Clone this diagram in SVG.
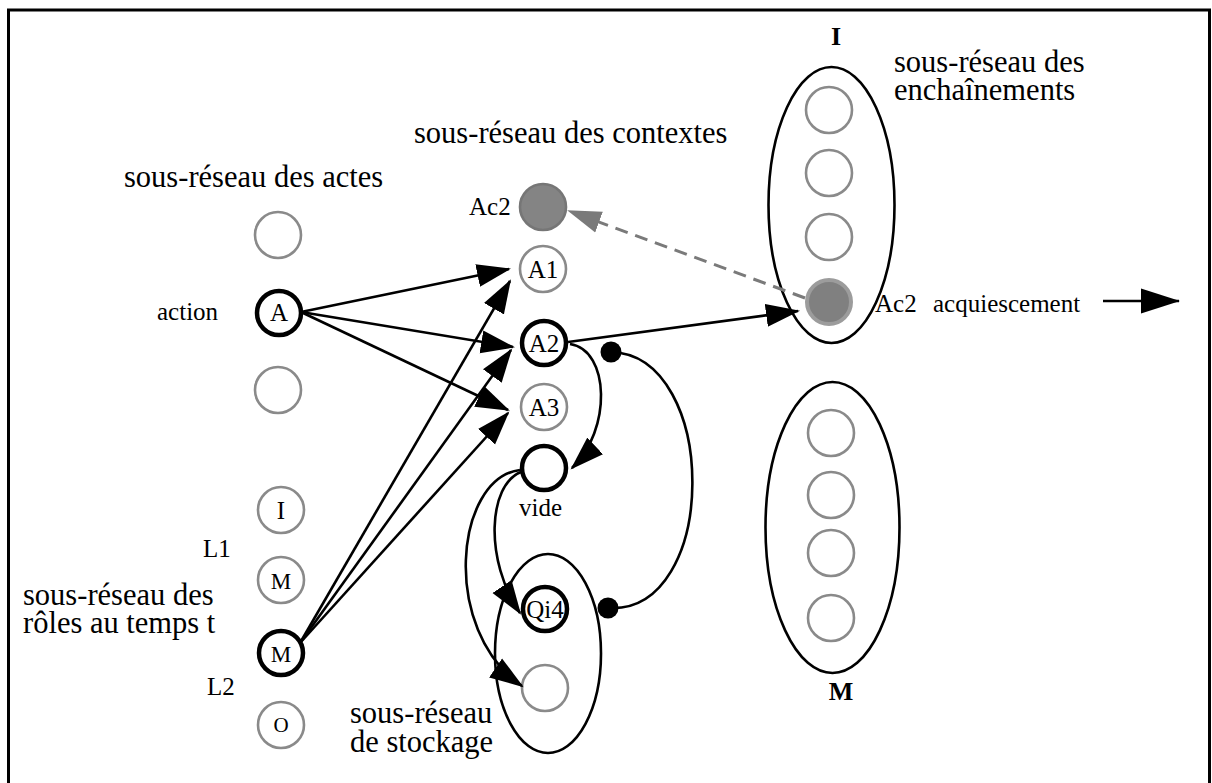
<svg xmlns="http://www.w3.org/2000/svg" width="1212" height="783" viewBox="0 0 1212 783">
<style>
text{font-family:"Liberation Serif","Times New Roman",serif;fill:#000}
.big{font-size:30.5px}
.sm{font-size:25px}
.nl{font-size:25px;text-anchor:middle}
.g{fill:#fff;stroke:#8a8a8a;stroke-width:2.6}
.b{fill:#fff;stroke:#000;stroke-width:4.5}
.ell{fill:none;stroke:#000;stroke-width:2.6}
.e{fill:none;stroke:#000;stroke-width:2.6}
.bold{font-weight:bold;font-size:26px;text-anchor:middle}
</style>
<defs>
<marker id="ah" markerUnits="userSpaceOnUse" viewBox="0 -12 36 24" refX="32" refY="0" markerWidth="36" markerHeight="24" orient="auto">
<path d="M0,-11.5 L34,0 L0,11.5 z" fill="#000"/>
</marker>
<marker id="ahbig" markerUnits="userSpaceOnUse" viewBox="0 -13 40 26" refX="38" refY="0" markerWidth="40" markerHeight="26" orient="auto">
<path d="M0,-12.5 L39,0 L0,12.5 z" fill="#000"/>
</marker>
<marker id="ahg" markerUnits="userSpaceOnUse" viewBox="0 -12 36 24" refX="32" refY="0" markerWidth="36" markerHeight="24" orient="auto">
<path d="M0,-11 L34,0 L0,11 z" fill="#7a7a7a"/>
</marker>
</defs>
<rect width="1212" height="783" fill="#fff"/>
<rect x="8.5" y="10" width="1201" height="790" fill="none" stroke="#000" stroke-width="3"/>

<g id="labels">
<text class="big" x="124" y="187">sous-réseau des actes</text>
<text class="big" x="414" y="143">sous-réseau des contextes</text>
<text class="big" x="894" y="72">sous-réseau des</text>
<text class="big" x="894" y="100">enchaînements</text>
<text class="big" x="23" y="605">sous-réseau des</text>
<text class="big" x="23" y="633">rôles au temps t</text>
<text class="big" x="350" y="723">sous-réseau</text>
<text class="big" x="350" y="752">de stockage</text>
<text class="sm" x="157" y="320">action</text>
<text class="sm" x="469" y="215">Ac2</text>
<text class="sm" x="203" y="557">L1</text>
<text class="sm" x="207" y="695">L2</text>
<text class="sm" x="519" y="516">vide</text>
<text class="sm" x="875" y="312">Ac2<tspan x="933">acquiescement</tspan></text>
<text class="bold" x="836" y="45">I</text>
<text class="bold" x="841" y="700">M</text>
</g>

<g id="ellipses">
<ellipse class="ell" cx="831.5" cy="205" rx="63" ry="138"/>
<ellipse class="ell" cx="832.5" cy="527.5" rx="67" ry="145.5"/>
<ellipse class="ell" cx="548" cy="653.5" rx="53" ry="99.5"/>
</g>

<g id="actes">
<g id="act1"><circle class="g" cx="278" cy="235" r="23"/></g>
<g id="actA"><circle class="b" cx="279" cy="313" r="22"/><text class="nl" x="279" y="321">A</text></g>
<g id="act3"><circle class="g" cx="278" cy="390" r="23"/></g>
</g>

<g id="contextes">
<g id="ctxAc2"><circle cx="543" cy="207" r="23" fill="#848484" stroke="#767676" stroke-width="2.6"/></g>
<g id="ctxA1"><circle class="g" cx="543" cy="269" r="23"/><text class="nl" x="543" y="277.5">A1</text></g>
<g id="ctxA2"><circle class="b" cx="544" cy="343" r="22"/><text class="nl" x="544" y="351.5">A2</text></g>
<g id="ctxA3"><circle class="g" cx="544" cy="407" r="23"/><text class="nl" x="544" y="415.5">A3</text></g>
<g id="ctxVide"><circle class="b" cx="544" cy="468" r="22"/></g>
</g>

<g id="stockage">
<g id="stQi4"><circle class="b" cx="545" cy="609" r="22"/><text class="nl" x="545" y="617.5">Qi4</text></g>
<g id="st2"><circle class="g" cx="545" cy="688" r="23"/></g>
</g>

<g id="roles">
<g id="roleI"><circle class="g" cx="281" cy="510" r="23"/><text class="nl" x="281" y="518.5">I</text></g>
<g id="roleM1"><circle class="g" cx="281" cy="580" r="23"/><text class="nl" x="281" y="588.5" style="font-size:23px">M</text></g>
<g id="roleM2"><circle class="b" cx="281" cy="653" r="22"/><text class="nl" x="281" y="661.5" style="font-size:23px">M</text></g>
<g id="roleO"><circle class="g" cx="281" cy="725" r="23"/><text class="nl" x="281" y="732" style="font-size:21px">O</text></g>
</g>

<g id="enchI">
<g id="eI1"><circle class="g" cx="829" cy="110" r="23"/></g>
<g id="eI2"><circle class="g" cx="829" cy="173" r="23"/></g>
<g id="eI3"><circle class="g" cx="829" cy="237" r="23"/></g>
<g id="eIAc2"><circle cx="829" cy="302" r="22" fill="#808080" stroke="#9c9c9c" stroke-width="4"/></g>
</g>

<g id="enchM">
<g id="eM1"><circle class="g" cx="831" cy="433" r="23"/></g>
<g id="eM2"><circle class="g" cx="831" cy="495" r="23"/></g>
<g id="eM3"><circle class="g" cx="831" cy="553" r="23"/></g>
<g id="eM4"><circle class="g" cx="831" cy="618" r="23"/></g>
</g>

<g id="connectors">
<line class="e" x1="301" y1="312" x2="509" y2="269" marker-end="url(#ah)"/>
<line class="e" x1="301" y1="312" x2="513" y2="347" marker-end="url(#ah)"/>
<line class="e" x1="301" y1="312" x2="508" y2="410" marker-end="url(#ah)"/>
<line class="e" x1="300" y1="643" x2="510" y2="281" marker-end="url(#ah)"/>
<line class="e" x1="300" y1="643" x2="511" y2="350" marker-end="url(#ah)"/>
<line class="e" x1="300" y1="643" x2="508" y2="413" marker-end="url(#ah)"/>
<line class="e" x1="568" y1="342" x2="798" y2="311" marker-end="url(#ah)"/>
<line x1="805" y1="298" x2="569" y2="211" stroke="#7a7a7a" stroke-width="3" stroke-dasharray="13 8" marker-end="url(#ahg)"/>
<path class="e" d="M570 344 C610 350 612 430 572 468" marker-end="url(#ah)"/>
<path class="e" d="M521 472 C488 485 484 560 520 613" marker-end="url(#ah)"/>
<path class="e" d="M520 470 C455 478 440 630 522 686" marker-end="url(#ah)"/>
<path class="e" d="M611 352 C720 355 720 615 608 608"/>
<circle cx="611" cy="352" r="10.5" fill="#000"/>
<circle cx="608" cy="608" r="10.5" fill="#000"/>
<line class="e" x1="1103" y1="301" x2="1179" y2="301" marker-end="url(#ahbig)"/>
</g>
</svg>
